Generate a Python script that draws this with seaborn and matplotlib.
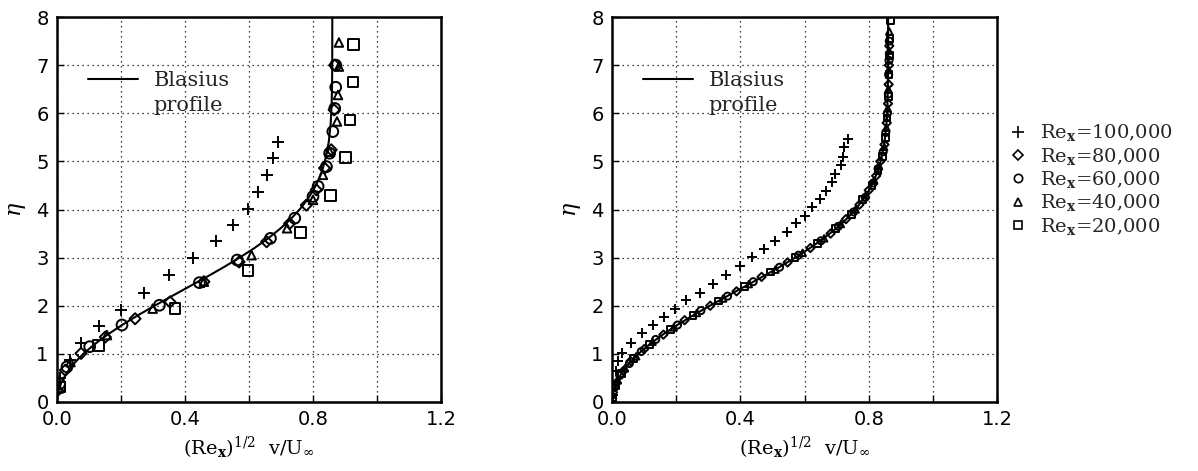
import matplotlib
matplotlib.use('Agg')
import matplotlib.pyplot as plt
from matplotlib.lines import Line2D
from matplotlib.ticker import MultipleLocator
import seaborn as sns

sns.set_theme(style='white')
plt.rcParams['font.family'] = ['DejaVu Sans']
plt.rcParams['mathtext.fontset'] = 'dejavuserif'

# Blasius profile, (Re_x)^1/2 v/U vs eta
blasius_eta = [0.0, 0.2, 0.4, 0.6, 0.8, 1.0, 1.2, 1.4, 1.6, 1.8, 2.0, 2.2, 2.4, 2.6, 2.8,
               3.0, 3.2, 3.4, 3.6, 3.8, 4.0, 4.2, 4.4, 4.6, 4.8, 5.0, 5.4, 5.8, 6.2, 6.6,
               7.0, 8.0]
blasius_v = [0.0, 0.0033, 0.0133, 0.0298, 0.0528, 0.0821, 0.1173, 0.1579, 0.2033, 0.2525,
             0.3048, 0.3589, 0.4136, 0.4679, 0.5206, 0.5707, 0.6172, 0.6595, 0.6972, 0.7301,
             0.7582, 0.7816, 0.8007, 0.8161, 0.8280, 0.8372, 0.8492, 0.8554, 0.8583, 0.8596,
             0.8601, 0.8604]

labels = ['Re$_\\mathbf{x}$=100,000', 'Re$_\\mathbf{x}$=80,000', 'Re$_\\mathbf{x}$=60,000',
          'Re$_\\mathbf{x}$=40,000', 'Re$_\\mathbf{x}$=20,000']
markers = ['+', 'D', 'o', '^', 's']

# left panel (few points per station)
l100_v = [0.010, 0.039, 0.075, 0.130, 0.199, 0.273, 0.351, 0.426, 0.497, 0.551, 0.597,
          0.629, 0.655, 0.675, 0.691]
l100_eta = [0.50, 0.88, 1.23, 1.58, 1.92, 2.27, 2.63, 3.00, 3.35, 3.68, 4.02, 4.36, 4.72,
            5.07, 5.41]
l80_v = [0.002, 0.026, 0.075, 0.151, 0.244, 0.353, 0.459, 0.569, 0.655, 0.727, 0.779,
         0.810, 0.836, 0.857, 0.866, 0.868]
l80_eta = [0.24, 0.66, 1.01, 1.35, 1.73, 2.08, 2.50, 2.91, 3.33, 3.71, 4.09, 4.41, 4.86,
           5.24, 6.07, 7.00]
l60_v = [0.008, 0.031, 0.102, 0.203, 0.320, 0.445, 0.563, 0.667, 0.743, 0.800, 0.816,
         0.842, 0.852, 0.862, 0.868, 0.871, 0.871]
l60_eta = [0.38, 0.73, 1.15, 1.60, 2.01, 2.48, 2.95, 3.40, 3.82, 4.27, 4.48, 4.89, 5.17,
           5.62, 6.10, 6.54, 7.00]
l40_v = [0.005, 0.042, 0.156, 0.299, 0.459, 0.608, 0.719, 0.800, 0.831, 0.852, 0.875,
         0.878, 0.881, 0.881]
l40_eta = [0.28, 0.83, 1.39, 1.94, 2.50, 3.05, 3.61, 4.20, 4.72, 5.20, 5.83, 6.38, 6.97,
           7.47]
l20_v = [0.008, 0.130, 0.369, 0.597, 0.761, 0.854, 0.901, 0.916, 0.925, 0.927]
l20_eta = [0.31, 1.17, 1.94, 2.74, 3.52, 4.29, 5.08, 5.86, 6.65, 7.43]

# right panel (dense traverses)
r100_v = [0.004, 0.008, 0.012, 0.020, 0.032, 0.060, 0.094, 0.128, 0.163, 0.197, 0.232,
          0.275, 0.315, 0.355, 0.398, 0.436, 0.475, 0.509, 0.545, 0.574, 0.600, 0.623,
          0.647, 0.667, 0.686, 0.696, 0.712, 0.719, 0.724, 0.735]
r100_eta = [0.15, 0.35, 0.65, 0.85, 1.02, 1.23, 1.43, 1.60, 1.77, 1.93, 2.11, 2.27, 2.46,
            2.64, 2.82, 3.01, 3.18, 3.34, 3.53, 3.71, 3.87, 4.06, 4.22, 4.38, 4.57, 4.74,
            4.93, 5.10, 5.29, 5.46]
r80_v = [0.003, 0.014, 0.036, 0.058, 0.100, 0.160, 0.226, 0.306, 0.388, 0.466, 0.547,
         0.618, 0.681, 0.729, 0.771, 0.800, 0.823, 0.836, 0.849, 0.856, 0.860, 0.862,
         0.863, 0.864]
r80_eta = [0.20, 0.40, 0.65, 0.85, 1.10, 1.40, 1.70, 2.00, 2.30, 2.60, 2.90, 3.20, 3.50,
           3.80, 4.10, 4.40, 4.70, 5.00, 5.35, 5.80, 6.20, 6.60, 7.00, 7.40]
r60_v = [0.001, 0.007, 0.024, 0.054, 0.091, 0.136, 0.204, 0.277, 0.360, 0.440, 0.522,
         0.581, 0.651, 0.705, 0.753, 0.789, 0.814, 0.829, 0.845, 0.853, 0.858, 0.861,
         0.862, 0.863, 0.864]
r60_eta = [0.05, 0.30, 0.55, 0.80, 1.05, 1.30, 1.60, 1.90, 2.20, 2.50, 2.80, 3.05, 3.35,
           3.65, 3.95, 4.25, 4.55, 4.85, 5.20, 5.60, 6.00, 6.40, 6.80, 7.10, 7.50]
r40_v = [0.002, 0.018, 0.040, 0.075, 0.126, 0.192, 0.264, 0.346, 0.426, 0.509, 0.594,
         0.661, 0.713, 0.759, 0.791, 0.817, 0.832, 0.848, 0.855, 0.859, 0.861, 0.862,
         0.863, 0.864]
r40_eta = [0.15, 0.45, 0.70, 0.95, 1.25, 1.55, 1.85, 2.15, 2.45, 2.75, 3.10, 3.40, 3.70,
           4.00, 4.30, 4.60, 4.90, 5.30, 5.70, 6.10, 6.50, 6.90, 7.30, 7.70]
r20_v = [0.001, 0.011, 0.029, 0.068, 0.116, 0.181, 0.252, 0.332, 0.413, 0.495, 0.570,
         0.640, 0.696, 0.746, 0.781, 0.810, 0.829, 0.842, 0.852, 0.857, 0.861, 0.863,
         0.865, 0.866, 0.868]
r20_eta = [0.10, 0.35, 0.60, 0.90, 1.20, 1.50, 1.80, 2.10, 2.40, 2.70, 3.00, 3.30, 3.60,
           3.90, 4.20, 4.50, 4.80, 5.10, 5.50, 5.90, 6.35, 6.80, 7.20, 7.55, 7.93]

left_sets = [(l100_v, l100_eta), (l80_v, l80_eta), (l60_v, l60_eta),
             (l40_v, l40_eta), (l20_v, l20_eta)]
right_sets = [(r100_v, r100_eta), (r80_v, r80_eta), (r60_v, r60_eta),
              (r40_v, r40_eta), (r20_v, r20_eta)]
left_sizes = [70, 32, 60, 38, 60]
right_sizes = [55, 18, 26, 22, 24]

fig = plt.figure(figsize=(11.98, 4.71), dpi=100)
ax1 = fig.add_axes([0.0476, 0.1465, 0.3205, 0.8174])
ax2 = fig.add_axes([0.5109, 0.1465, 0.3214, 0.8174])

grid_ls = (0, (1, 3))
xlab = '(Re$_\\mathbf{x}$)$^{1/2}$  v/U$_\\infty$'

for ax, sets, sizes in [(ax1, left_sets, left_sizes), (ax2, right_sets, right_sizes)]:
    sns.lineplot(x=blasius_v, y=blasius_eta, sort=False, estimator=None,
                 color='black', linewidth=1.5, ax=ax, zorder=3)
    for (v, eta), m, s in zip(sets, markers, sizes):
        if m == '+':
            sns.scatterplot(x=v, y=eta, marker=m, s=s, color='black',
                            linewidth=1.4, ax=ax, zorder=4)
        else:
            sns.scatterplot(x=v, y=eta, marker=m, s=s, facecolors='none',
                            edgecolor='black', linewidth=1.4, ax=ax, zorder=4)

    ax.set_xlim(0, 1.2)
    ax.set_ylim(0, 8)
    ax.xaxis.set_major_locator(MultipleLocator(0.4))
    ax.xaxis.set_minor_locator(MultipleLocator(0.2))
    ax.yaxis.set_major_locator(MultipleLocator(1))
    ax.xaxis.set_major_formatter(matplotlib.ticker.FormatStrFormatter('%.1f'))
    ax.grid(True, which='both', axis='x', color='black', linestyle=grid_ls, linewidth=0.9)
    ax.grid(True, which='major', axis='y', color='black', linestyle=grid_ls, linewidth=0.9)
    ax.set_axisbelow(True)
    ax.tick_params(which='both', direction='in', length=5, width=1, color='black',
                   labelsize=14, labelcolor='black', pad=6,
                   bottom=True, left=True)
    for sp in ax.spines.values():
        sp.set_visible(True)
        sp.set_color('black')
        sp.set_linewidth(1.8)
    ax.set_xlabel(xlab, fontsize=14, family='DejaVu Serif', color='black', labelpad=4)
    ax.set_ylabel('$\\eta$', fontsize=16, color='black', labelpad=6, rotation=90)

    bl_handles = [Line2D([], [], color='black', linewidth=1.5),
                  Line2D([], [], color='none')]
    ax.legend(bl_handles, ['Blasius', 'profile'], loc='upper left',
              bbox_to_anchor=(0.08, 0.86), frameon=False, borderpad=0,
              borderaxespad=0, handlelength=2.4, handletextpad=0.75,
              labelspacing=0.3, prop={'family': 'DejaVu Serif', 'size': 15})

re_handles = []
for m in markers:
    if m == '+':
        re_handles.append(Line2D([], [], marker=m, linestyle='none', color='black',
                                 markersize=8, markeredgewidth=1.2))
    else:
        re_handles.append(Line2D([], [], marker=m, linestyle='none',
                                 markerfacecolor='none', markeredgecolor='black',
                                 markersize=6 if m != 'D' else 5, markeredgewidth=1.2))
fig.legend(re_handles, labels, loc='upper left', bbox_to_anchor=(0.842, 0.74),
           frameon=False, borderpad=0, borderaxespad=0, handlelength=1.0,
           handletextpad=0.6, labelspacing=0.12,
           prop={'family': 'DejaVu Serif', 'size': 14})

fig.savefig('out.png', dpi=100)
